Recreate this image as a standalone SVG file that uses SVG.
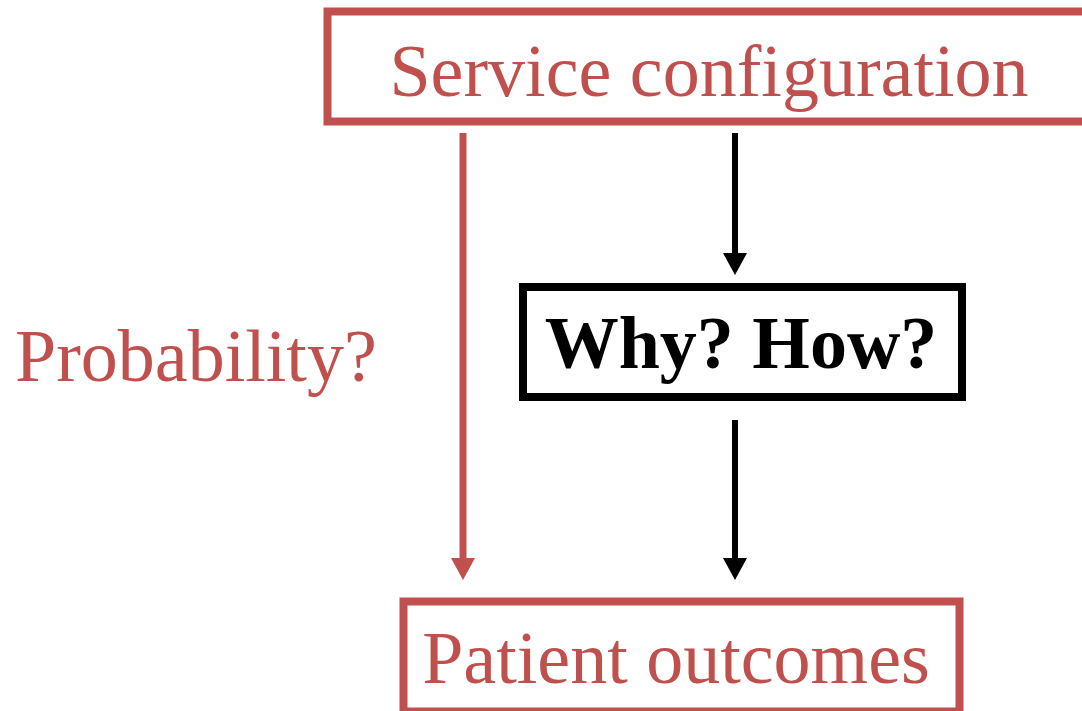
<svg xmlns="http://www.w3.org/2000/svg" width="1082" height="711" viewBox="0 0 1082 711">
<style>
.red{stroke:#C0504D;fill:none}
.blk{stroke:#000;fill:none}
.box{stroke-width:8}
.t{font-family:"Liberation Serif","Times New Roman",serif;font-size:74px}
.tr{fill:#C0504D}
</style>
<defs>
<marker id="ar" markerUnits="userSpaceOnUse" markerWidth="24" markerHeight="24" refX="0" refY="12" orient="auto" viewBox="0 0 24 24">
<path d="M0,0 L22,12 L0,24 Z" fill="#C0504D"/>
</marker>
<marker id="ab" markerUnits="userSpaceOnUse" markerWidth="24" markerHeight="24" refX="0" refY="12" orient="auto" viewBox="0 0 24 24">
<path d="M0,0 L22,12 L0,24 Z" fill="#000"/>
</marker>
</defs>
<rect width="1082" height="711" fill="#fff"/>
<g id="connectors">
<line x1="463" y1="133" x2="463" y2="558" class="red" stroke-width="7" marker-end="url(#ar)"/>
<line x1="735" y1="133" x2="735" y2="253" class="blk" stroke-width="6" marker-end="url(#ab)"/>
<line x1="735" y1="420" x2="735" y2="558" class="blk" stroke-width="6" marker-end="url(#ab)"/>
</g>
<g id="service">
<rect x="327.5" y="11.5" width="780" height="110" class="red box"/>
<text x="709" y="96" text-anchor="middle" class="t tr">Service configuration</text>
</g>
<g id="why">
<rect x="523" y="287" width="439" height="110" class="blk box" stroke-width="7.5"/>
<text x="741" y="368" text-anchor="middle" class="t" font-weight="bold" fill="#000">Why? How?</text>
</g>
<g id="patient">
<rect x="403.5" y="601.5" width="556" height="110" class="red box"/>
<text x="676" y="683" text-anchor="middle" class="t tr">Patient outcomes</text>
</g>
<g id="probability">
<text x="15" y="381" class="t tr">Probability?</text>
</g>
</svg>
